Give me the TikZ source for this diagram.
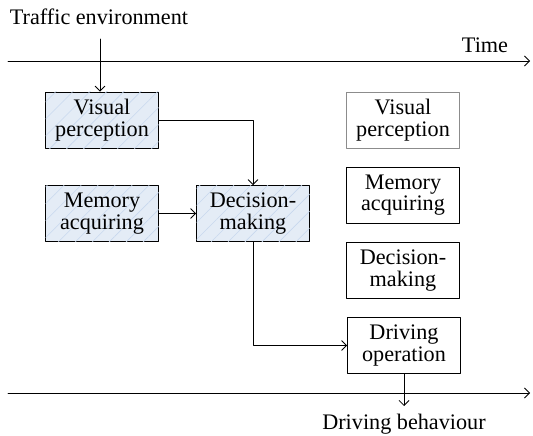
\documentclass[tikz,border=0pt]{standalone}
\usepackage{fontspec}
\setmainfont{Liberation Serif}
\usetikzlibrary{arrows.meta,patterns.meta}
\definecolor{boxfill}{HTML}{E4ECF6}
\definecolor{hatch}{HTML}{C8D8EE}
\begin{document}
\begin{tikzpicture}[x=1pt,y=-1pt,line cap=round,line join=round,
    font=\fontsize{22.2}{21.5}\selectfont,
    arr/.style={-{Straight Barb[length=5pt,width=10pt]},line width=0.8pt},
    blk/.style={draw,line width=0.8pt,align=center,minimum width=113pt,minimum height=56pt,inner sep=0pt},
    lit/.style={blk,fill=boxfill,postaction={pattern={Lines[angle=45,distance=12pt,line width=0.6pt]},pattern color=hatch}}]
        \useasboundingbox (0,0) rectangle (533,436);
        % time axes
        \coordinate (t0) at (8,61); \coordinate (t1) at (530,61);
        \coordinate (b0) at (8,393); \coordinate (b1) at (530,393);
        \draw[arr] (t0) -- (t1);
        \draw[arr] (b0) -- (b1);
        \node (time) at (485,45) {Time};
        \node (env) at (99,17) {Traffic environment};
        \coordinate (e0) at (100,39);
        % left: processing order
        \node[lit] (vp) at (102,120) {Visual\\perception};
        \node[lit] (ma) at (102,213.5) {Memory\\acquiring};
        \node[lit] (dm) at (253,213.5) {Decision-\\making};
        % right: the same steps
        \node[blk,draw=black!45] (vp2) at (403,120) {Visual\\perception};
        \node[blk] (ma2) at (403,195) {Memory\\acquiring};
        \node[blk] (dm2) at (403,270.5) {Decision-\\making};
        \node[blk] (do) at (404,345.5) {Driving\\operation};
        \coordinate (out) at (404,406);
        \node (beh) at (404,424) {Driving behaviour};

        \draw[arr] (e0) -- (e0 |- vp.north);
        \draw[arr] (vp.east) -| (dm.north);
        \draw[arr] (ma.east) -- (dm.west);
        \draw[arr] (dm.south) |- (do.west);
        \draw[arr] (do.south) -- (out);
      \end{tikzpicture}
\end{document}
